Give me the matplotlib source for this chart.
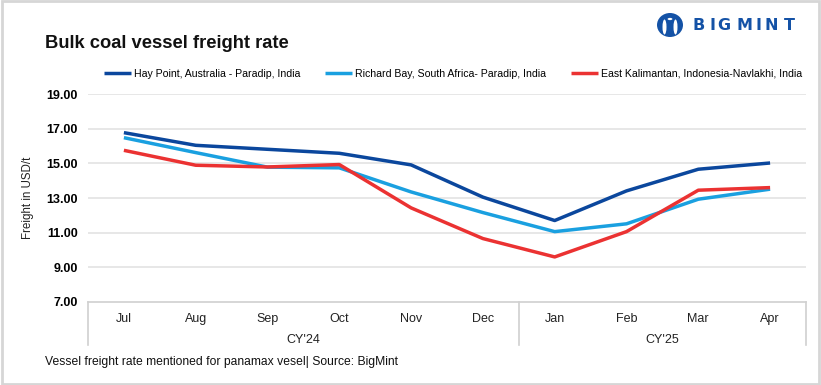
import matplotlib
matplotlib.use("Agg")
import matplotlib.pyplot as plt
from matplotlib.patches import Rectangle, Circle, Ellipse
import matplotlib.transforms as mtransforms

months = ["Jul", "Aug", "Sep", "Oct", "Nov", "Dec", "Jan", "Feb", "Mar", "Apr"]
years = ["CY'24", "CY'25"]
year_sizes = [6, 4]
hay_point = [16.77, 16.04, 15.81, 15.58, 14.91, 13.05, 11.70, 13.41, 14.66, 15.02]
richard_bay = [16.48, 15.62, 14.78, 14.74, 13.35, 12.16, 11.06, 11.51, 12.93, 13.51]
east_kalimantan = [15.75, 14.89, 14.79, 14.93, 12.43, 10.66, 9.60, 11.06, 13.45, 13.60]
series_names = ["Hay Point, Australia - Paradip, India",
                "Richard Bay, South Africa- Paradip, India",
                "East Kalimantan, Indonesia-Navlakhi, India"]
colors = ["#0B479D", "#1AA0E0", "#EB3232"]
yticks = [7, 9, 11, 13, 15, 17, 19]

plt.rcParams['font.family'] = ['Liberation Sans', 'DejaVu Sans']

W, H = 821, 385
fig = plt.figure(figsize=(W / 100, H / 100), dpi=100)
fig.patch.set_facecolor("white")

# border
fig.add_artist(Rectangle((0.002, 0.003), 0.996, 0.994, transform=fig.transFigure,
                         fill=False, edgecolor="#d6d6d6", linewidth=2))

ax = fig.add_axes([88 / W, 1 - 302 / H, (806 - 88) / W, (302 - 94) / H])
x = list(range(len(months)))
for vals, name, c in zip([hay_point, richard_bay, east_kalimantan], series_names, colors):
    ax.plot(x, vals, color=c, linewidth=2.5, label=name, solid_capstyle="butt")

ax.set_xlim(-0.5, len(months) - 0.5)
ax.set_ylim(7, 19)
ax.set_yticks(yticks)
ax.set_yticklabels([f"{v:.2f}" for v in yticks], fontweight="bold", fontsize=9)
ax.tick_params(axis="y", length=0, pad=7.5)
for v in yticks[1:]:
    ax.axhline(v, color="#e3e3e3", linewidth=1.2, zorder=0)
for s in ["top", "right", "left"]:
    ax.spines[s].set_visible(False)
ax.spines["bottom"].set_color("#d0d0d0")
ax.spines["bottom"].set_linewidth(1.2)

ax.set_xticks(x)
ax.set_xticklabels(months, fontsize=9, color="#222222")
ax.tick_params(axis="x", length=0, pad=8)

# category group lines and labels
trans = mtransforms.blended_transform_factory(ax.transData, ax.transAxes)
depth = -(345 - 302) / (302 - 94)
bounds = [-0.5]
acc = -0.5
for n in year_sizes:
    acc += n
    bounds.append(acc)
for b in bounds:
    ax.plot([b, b], [0, depth], transform=trans, color="#d0d0d0", linewidth=1.2, clip_on=False)
for i, yname in enumerate(years):
    cx = (bounds[i] + bounds[i + 1]) / 2
    ax.text(cx, -(340 - 302) / (302 - 94), yname, transform=trans, ha="center", va="center",
            fontsize=9, color="#222222")

ax.set_ylabel("Freight in USD/t", fontsize=8.3, color="#222222")
ax.yaxis.set_label_coords(-(88 - 34) / (806 - 88), 0.5)

fig.text(45 / W, 1 - 43 / H, "Bulk coal vessel freight rate", fontsize=13.2, fontweight="bold",
         ha="left", va="center", color="#111111")

leg = fig.legend(loc="center", bbox_to_anchor=(453 / W, 1 - 74 / H), ncol=3, frameon=False,
                 fontsize=7.6, handlelength=2.6, columnspacing=2.3, handletextpad=0.3)

fig.text(45 / W, 1 - 362 / H, "Vessel freight rate mentioned for panamax vesel| Source: BigMint",
         fontsize=8.7, ha="left", va="center", color="#111111")

# logo
logo_blue = "#1452A6"
cxl, cyl = 670, 25
fig.add_artist(Ellipse((cxl / W, 1 - cyl / H), 26 / W, 24 / H, transform=fig.transFigure,
                       facecolor=logo_blue, edgecolor="none"))
fig.add_artist(Ellipse(((cxl - 5.5) / W, 1 - (cyl + 2) / H), 4 / W, 15 / H, transform=fig.transFigure,
                       facecolor="white", edgecolor="none"))
fig.add_artist(Ellipse(((cxl + 5.5) / W, 1 - (cyl + 2) / H), 4 / W, 15 / H, transform=fig.transFigure,
                       facecolor="white", edgecolor="none"))
fig.add_artist(Circle((cxl / W, 1 - (cyl - 6) / H), 2.4 / W, transform=fig.transFigure,
                      facecolor="white", edgecolor="none"))
letters = "BIGMINT"
lx = [699, 712.5, 724, 744.5, 758.5, 771.5, 789]
for ch, px in zip(letters, lx):
    fig.text(px / W, 1 - 26 / H, ch, fontsize=11.5, fontweight="heavy", color=logo_blue,
             ha="center", va="center", family=['DejaVu Sans'])

fig.savefig("out.png", dpi=100, facecolor="white")
